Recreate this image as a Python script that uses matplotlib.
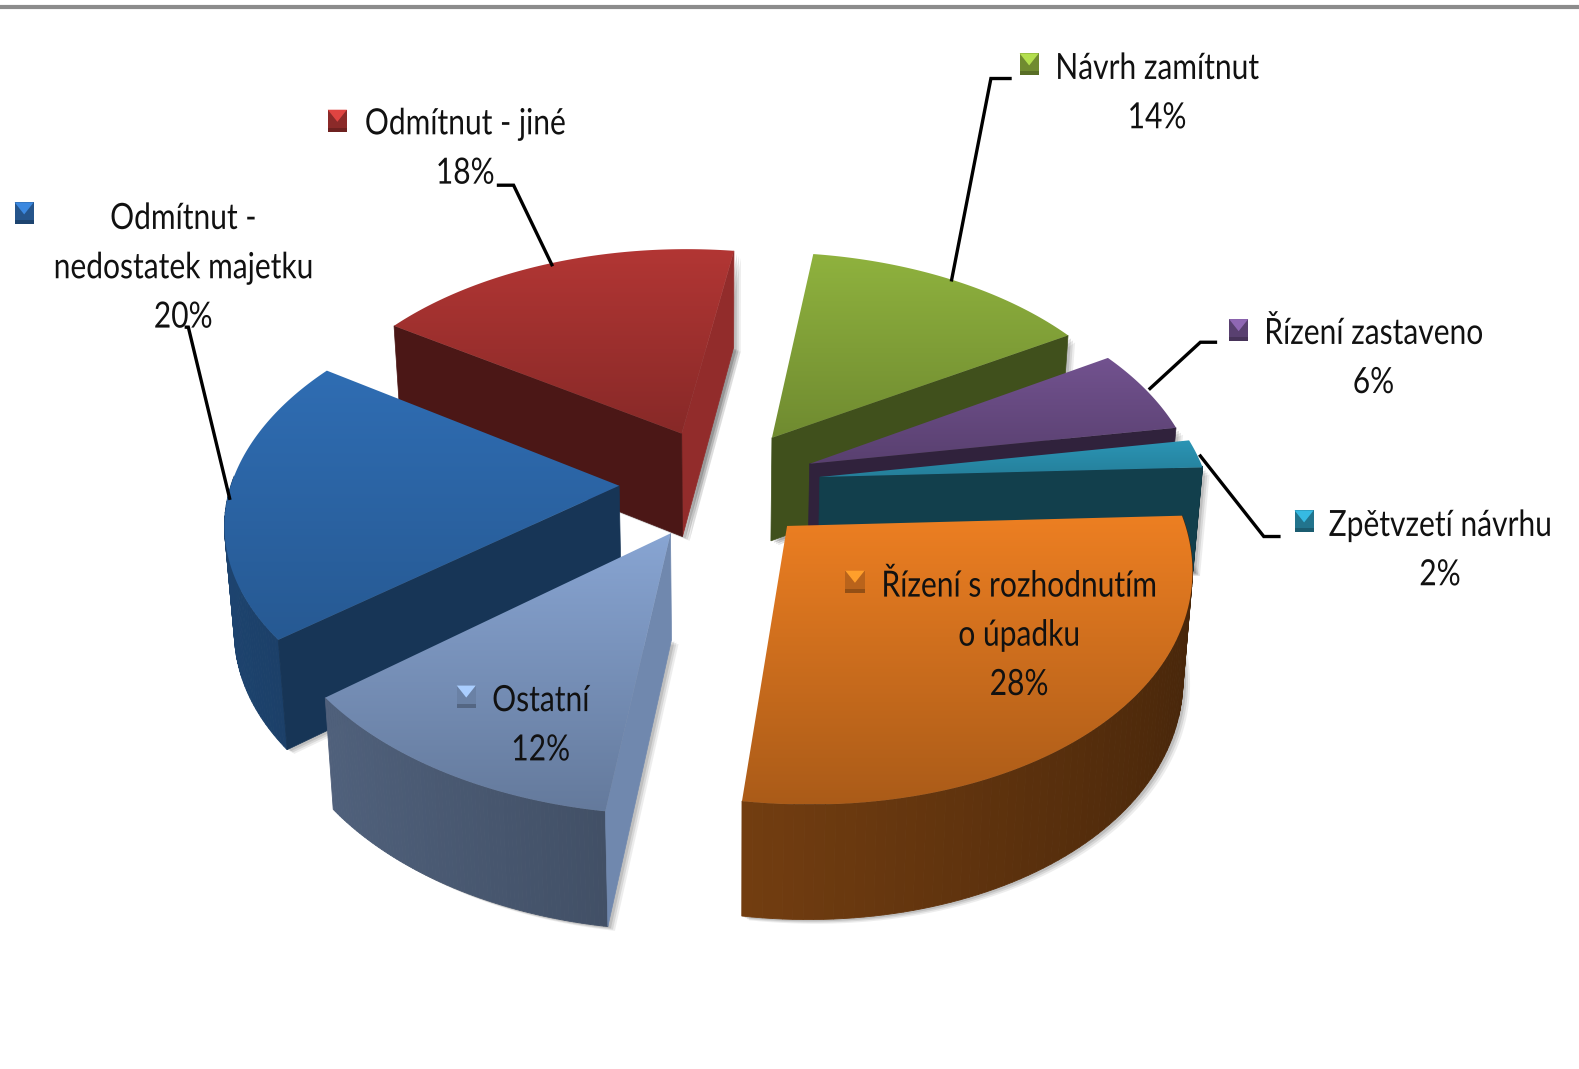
import numpy as np
import matplotlib
matplotlib.use("Agg")
import matplotlib.pyplot as plt
from matplotlib.patches import Polygon
from matplotlib.patheffects import AbstractPathEffect
from matplotlib.transforms import Affine2D
from matplotlib.colors import to_rgb

# data, clockwise starting with the green slice
names = ["Návrh zamítnut", "Řízení zastaveno", "Zpětvzetí návrhu",
         "Řízení s rozhodnutím\no úpadku", "Ostatní",
         "Odmítnut -\nnedostatek majetku", "Odmítnut - jiné"]
shares = [14, 6, 2, 28, 12, 20, 18]
top_colors = ["#8FB23E", "#72528F", "#2B95B5", "#ED7F22", "#88A5D3", "#2F6DB3", "#B23634"]
end_factor = [0.78, 0.78, 0.85, 0.72, 0.74, 0.82, 0.76]
explode = [0.25, 0.25, 0.26, 0.25, 0.25, 0.26, 0.25]
draw_order = [6, 0, 1, 5, 2, 4, 3]

# label layout: centre x, first line y, key x, key y
label_pos = [(1149, 67, 1022, 64), (1364, 330, 1230, 328), (1430, 521, 1295, 518),
             (1012, 581, 849, 578), (537, 695, 463, 692), (182, 216, 24, 212),
             (462, 122, 335, 120)]
leaders = [[(1003, 78), (984, 78), (945, 278)], [(1207, 340), (1192, 340), (1142, 386)],
           [(1270, 533), (1255, 533), (1192, 453)], None, None,
           [(185, 325), (187, 325), (228, 495)], [(495, 184), (510, 184), (548, 263)]]

CX, CY, A, B, P, D = 715, 480, 385, 223, 0.145, 104
WARP = 8.0
START = 8.3

plt.rcParams["font.family"] = ["Lato", "DejaVu Sans"]
fig = plt.figure(figsize=(15.79, 10.69), dpi=100)
ax = fig.add_axes([0, 0, 1, 1])
ax.set_axis_off()
ax.set_xlim(0, 1568)
ax.set_ylim(1062, 0)


class Narrow(AbstractPathEffect):
    """Squeeze glyphs horizontally about a display x position."""

    def __init__(self, x_display, factor):
        super().__init__()
        self.x, self.f = x_display, factor

    def draw_path(self, renderer, gc, tpath, affine, rgbFace=None):
        t = affine + Affine2D().translate(-self.x, 0).scale(self.f, 1).translate(self.x, 0)
        renderer.draw_path(gc, tpath, t, rgbFace)


def proj(u, v, z=0.0):
    u, v = np.asarray(u, float), np.asarray(v, float)
    w = 1 + P * v
    sx = CX + (u * A / w) * (1 - 0.02 * z) + WARP * np.minimum(v, 0) ** 2
    sy = CY - v * B / w + z * D / np.sqrt(w)
    return sx, sy


def mix(col, f):
    return tuple(np.clip(np.array(to_rgb(col)) * f, 0, 1))


def gradient_fill(pts, c0, c1, z):
    xs, ys = pts[:, 0], pts[:, 1]
    y0, y1 = ys.min(), ys.max()
    t = np.linspace(0, 1, 128)[:, None, None]
    img = (1 - t) * np.array(c0)[None, None, :] + t * np.array(c1)[None, None, :]
    im = ax.imshow(img, extent=(xs.min(), xs.max(), y1, y0), aspect="auto", zorder=z,
                   interpolation="bilinear")
    clip = Polygon(pts, closed=True, transform=ax.transData)
    im.set_clip_path(clip)


cum = START + np.cumsum([0] + shares[:-1]) * 3.6
z = 2
for i in draw_order:
    a0, a1 = np.radians(cum[i]), np.radians(cum[i] + shares[i] * 3.6)
    mid = (a0 + a1) / 2
    ou, ov = explode[i] * np.sin(mid), explode[i] * np.cos(mid)
    th = np.linspace(a0, a1, 80)
    us = np.r_[ou, ou + np.sin(th)]
    vs = np.r_[ov, ov + np.cos(th)]
    tx, ty = proj(us, vs, 0)
    bx, by = proj(us, vs, 1)
    col = top_colors[i]

    # soft shadow
    for off, al in ((7, 0.10), (5, 0.14), (3, 0.18)):
        ax.fill(bx + off, by + off * 0.6, color="#555555", alpha=al, lw=0, zorder=z)
        ax.fill([bx[0] + off, tx[-1] + off, bx[-1] + off],
                [by[0] + off * 0.6, ty[-1] + off, by[-1] + off * 0.6],
                color="#555555", alpha=al, lw=0, zorder=z)
    z += 1

    # outer rim, shaded by the direction it faces
    for k in range(1, len(th)):
        m = (th[k - 1] + th[k]) / 2
        if np.cos(m) > 0.05:
            continue
        c = mix(col, 0.46 - 0.16 * np.sin(m))
        ax.fill([tx[k], tx[k + 1], bx[k + 1], bx[k]], [ty[k], ty[k + 1], by[k + 1], by[k]],
                color=c, ec=c, lw=0.6, zorder=z)
    z += 1

    # radial faces that look towards the viewer
    faces = []
    for idx, sign, ang in ((1, -1, a0), (-1, 1, a1)):
        nu = sign * np.cos(ang)
        nv = -sign * np.sin(ang)
        if nv <= 0:
            faces.append((nv, idx, nu))
    for nv, idx, nu in sorted(faces, key=lambda f: -f[0]):
        shade = 0.42 + 0.42 * max(nu, 0) ** 4
        ax.fill([tx[0], tx[idx], bx[idx], bx[0]], [ty[0], ty[idx], by[idx], by[0]],
                color=mix(col, shade), lw=0.5, ec=mix(col, shade), zorder=z)
        z += 1

    # top surface
    gradient_fill(np.c_[tx, ty], mix(col, 1.0), mix(col, end_factor[i]), z)
    z += 1

# leader lines
for path in leaders:
    if path:
        ax.plot(*zip(*path), color="black", lw=2.4, zorder=500, solid_joinstyle="miter")

# labels and bevelled keys
for i, (nm, pos) in enumerate(zip(names, label_pos)):
    cx, y, kx, ky = pos
    lines = nm.split("\n") + [f"{shares[i]}%"]
    xd = ax.transData.transform((cx, y))[0]
    for j, line in enumerate(lines):
        t = ax.text(cx, y + 1 + j * 49, line, ha="center", va="center", fontsize=26,
                    color="#111111", zorder=600)
        t.set_path_effects([Narrow(xd, 0.83)])
    hw, hh = 9.5, 11
    col = top_colors[i]
    ax.fill([kx - hw, kx + hw, kx + hw, kx - hw], [ky - hh, ky - hh, ky + hh, ky + hh],
            color=mix(col, 0.78), lw=0, zorder=601)
    ax.fill([kx - hw, kx + hw, kx], [ky - hh, ky - hh, ky + 1], color=mix(col, 1.25),
            lw=0, zorder=602)
    ax.fill([kx - hw, kx + hw, kx + hw, kx - hw], [ky + hh - 4, ky + hh - 4, ky + hh, ky + hh],
            color=mix(col, 0.62), lw=0, zorder=602)

# top border
ax.plot([0, 1568], [7, 7], color="#8C8C8C", lw=3, zorder=700)

ax.set_xlim(0, 1568)
ax.set_ylim(1062, 0)
fig.savefig("out.png", dpi=100, facecolor="white")
